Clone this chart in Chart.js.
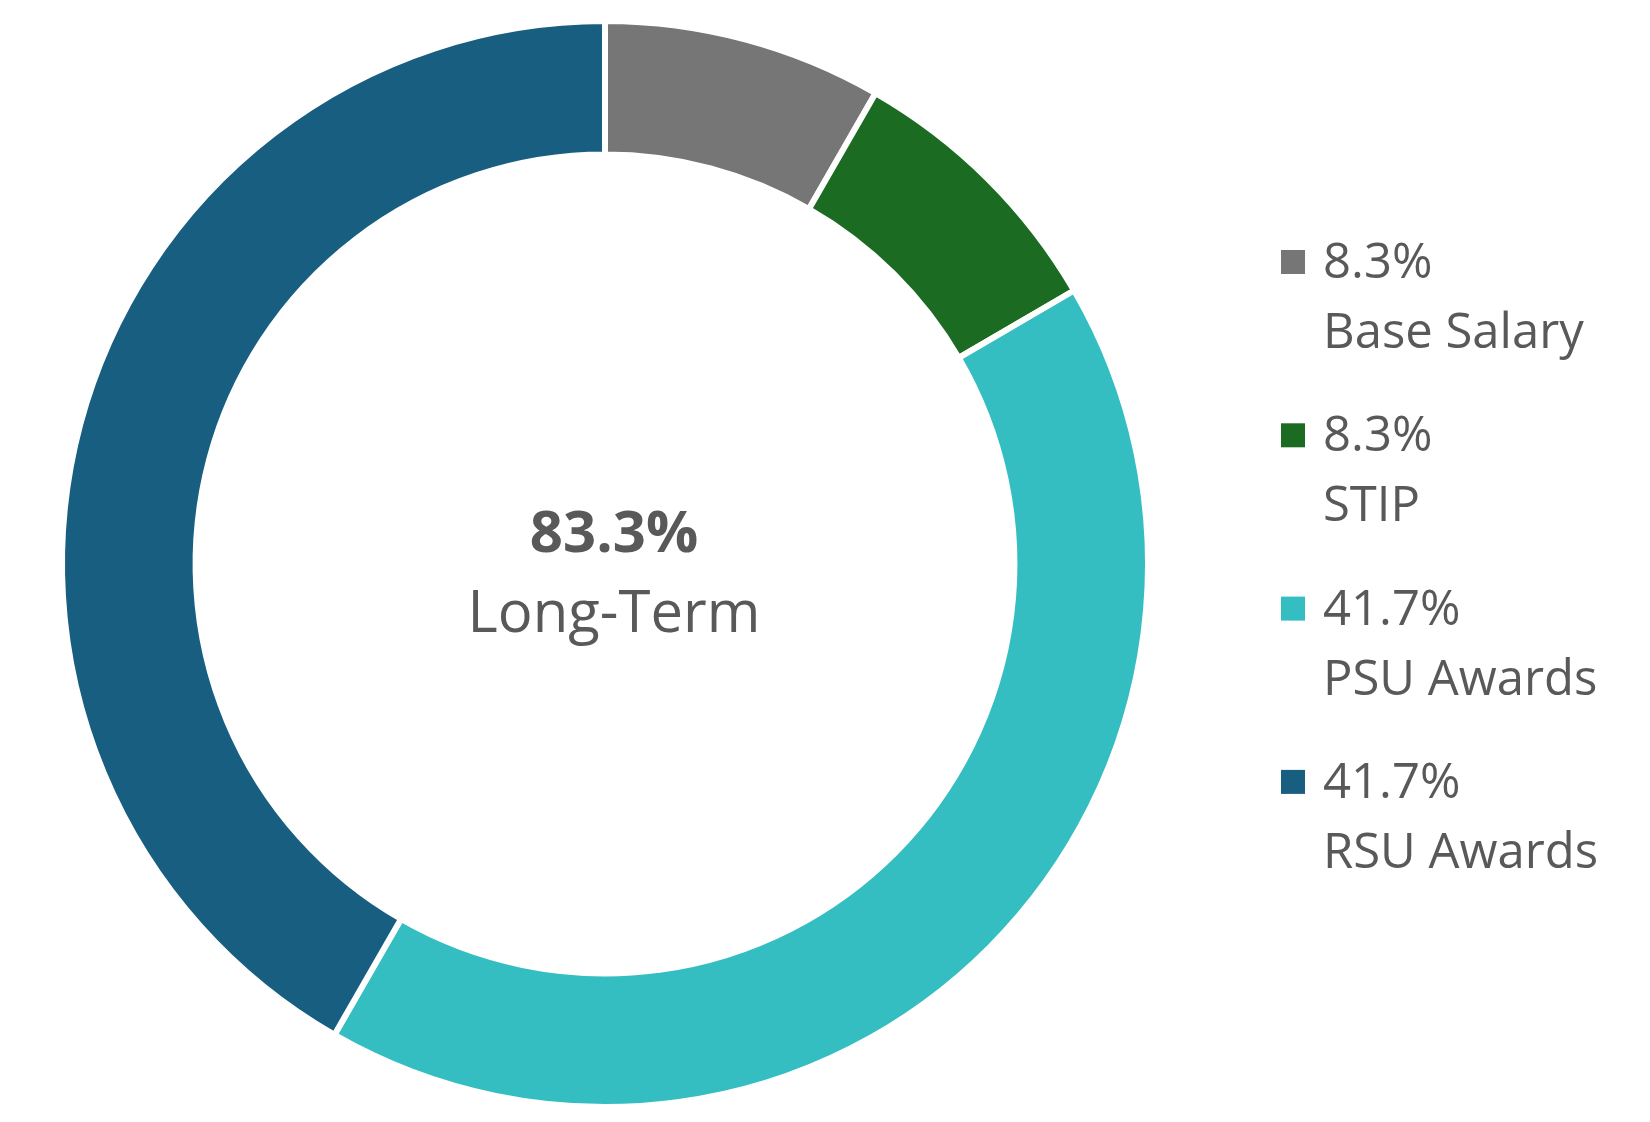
<!DOCTYPE html>
<html>
<head>
<meta charset="utf-8">
<script src="https://cdn.jsdelivr.net/npm/chart.js@4/dist/chart.umd.min.js"></script>
<style>
  html, body { margin: 0; padding: 0; background: #ffffff; }
  #wrap { width: 1650px; height: 1122px; position: relative; }
</style>
</head>
<body>
<div id="wrap"><canvas id="c" width="1650" height="1122"></canvas></div>
<script>
const categories = ['Base Salary', 'STIP', 'PSU Awards', 'RSU Awards'];
const shares = [8.3, 8.3, 41.7, 41.7];
const sliceColors = ['#767676', '#1b6b23', '#35bec2', '#175e80'];
const centerValue = '83.3%';
const centerLabel = 'Long-Term';

const TEXT = '#595959';
const FONT = '"Open Sans", "Noto Sans", sans-serif';

const overlay = {
  id: 'overlay',
  afterDraw(chart) {
    const ctx = chart.ctx;
    ctx.save();
    ctx.fillStyle = TEXT;
    ctx.textBaseline = 'alphabetic';
    // center text
    ctx.textAlign = 'center';
    ctx.font = 'bold 58px ' + FONT;
    ctx.fillText(centerValue, 614, 552);
    ctx.font = '58px ' + FONT;
    ctx.fillText(centerLabel, 614, 632);
    // legend
    ctx.textAlign = 'left';
    const step = 173.3;
    categories.forEach((cat, i) => {
      const y0 = i * step;
      ctx.fillStyle = sliceColors[i];
      ctx.fillRect(1281, 250 + y0, 24, 24);
      ctx.fillStyle = TEXT;
      ctx.font = '49px ' + FONT;
      ctx.fillText(shares[i].toFixed(1) + '%', 1323, 278 + y0);
      ctx.fillText(cat, 1323, 348 + y0);
    });
    ctx.restore();
  }
};

new Chart(document.getElementById('c'), {
  type: 'doughnut',
  data: {
    labels: categories,
    datasets: [{
      data: shares,
      backgroundColor: sliceColors,
      borderColor: '#ffffff',
      borderWidth: 6,
      hoverOffset: 0
    }]
  },
  options: {
    responsive: false,
    animation: false,
    cutout: '75.4%',
    layout: { padding: { top: 18, bottom: 12, left: 59, right: 499 } },
    plugins: {
      legend: { display: false },
      tooltip: { enabled: false }
    }
  },
  plugins: [overlay]
});
</script>
</body>
</html>
